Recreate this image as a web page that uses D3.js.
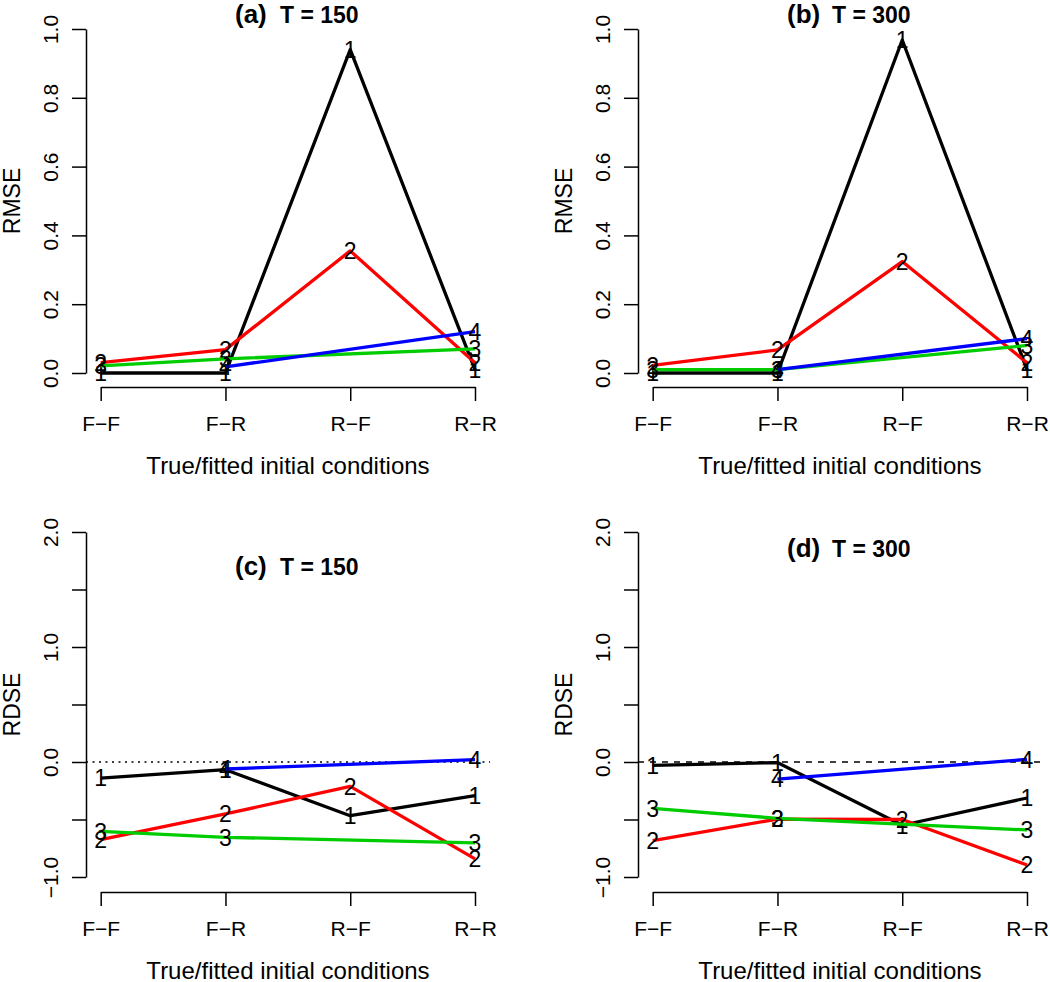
<!DOCTYPE html>
<html>
<head>
<meta charset="utf-8">
<script src="https://cdn.jsdelivr.net/npm/d3@7"></script>
<style>
  html, body { margin: 0; padding: 0; background: #fff; }
  text { font-family: "Liberation Sans", Arial, Helvetica, sans-serif; }
</style>
</head>
<body>
<svg id="chart" width="1050" height="982"></svg>
<script>
// ---------------- data ----------------
const categories = ["F\u2212F", "F\u2212R", "R\u2212F", "R\u2212R"];
const seriesNames = ["1", "2", "3", "4"];
const seriesColors = ["#000000", "#FF0000", "#00CD00", "#0000FF"];

// RMSE, T = 150 (null = not available)
const rmse150_s1 = [0, 0, 0.94, 0.01];
const rmse150_s2 = [0.03, 0.068, 0.355, 0.03];
const rmse150_s3 = [0.021, 0.041, null, 0.07];
const rmse150_s4 = [null, 0.018, null, 0.12];

// RMSE, T = 300
const rmse300_s1 = [0, 0, 0.968, 0.01];
const rmse300_s2 = [0.022, 0.067, 0.324, 0.03];
const rmse300_s3 = [0.01, 0.01, null, 0.08];
const rmse300_s4 = [null, 0.01, null, 0.10];

// RDSE, T = 150
const rdse150_s1 = [-0.14, -0.067, -0.467, -0.293];
const rdse150_s2 = [-0.676, -0.452, -0.212, -0.843];
const rdse150_s3 = [-0.603, -0.655, null, -0.704];
const rdse150_s4 = [null, -0.061, null, 0.02];

// RDSE, T = 300
const rdse300_s1 = [-0.03, -0.005, -0.55, -0.313];
const rdse300_s2 = [-0.684, -0.496, -0.50, -0.896];
const rdse300_s3 = [-0.403, -0.49, null, -0.591];
const rdse300_s4 = [null, -0.148, null, 0.023];

const rmseTicks = [0, 0.2, 0.4, 0.6, 0.8, 1.0];
const rdseTicks = [-1, -0.5, 0, 0.5, 1, 1.5, 2];
const rdseLabelTicks = [-1, 0, 1, 2];

const panelLetters = ["(a)", "(b)", "(c)", "(d)"];
const panelTitles = ["T = 150", "T = 300", "T = 150", "T = 300"];
const yTitles = ["RMSE", "RMSE", "RDSE", "RDSE"];
const xTitle = "True/fitted initial conditions";

// ---------------- layout ----------------
const svg = d3.select("#chart");
svg.append("rect").attr("width", 1050).attr("height", 982).attr("fill", "#fff");

const panels = [
  { series: [rmse150_s1, rmse150_s2, rmse150_s3, rmse150_s4], ox: 0,   yRange: [373, 29],  domain: [0, 1],  ticks: rmseTicks, labelTicks: rmseTicks, xAxisY: 387, titleY: 23, hline: null },
  { series: [rmse300_s1, rmse300_s2, rmse300_s3, rmse300_s4], ox: 552, yRange: [373, 29],  domain: [0, 1],  ticks: rmseTicks, labelTicks: rmseTicks, xAxisY: 387, titleY: 23, hline: null },
  { series: [rdse150_s1, rdse150_s2, rdse150_s3, rdse150_s4], ox: 0,   yRange: [877, 532], domain: [-1, 2], ticks: rdseTicks, labelTicks: rdseLabelTicks, xAxisY: 892, titleY: 575, hline: "2,4.5" },
  { series: [rdse300_s1, rdse300_s2, rdse300_s3, rdse300_s4], ox: 552, yRange: [877, 532], domain: [-1, 2], ticks: rdseTicks, labelTicks: rdseLabelTicks, xAxisY: 892, titleY: 557, hline: "6,6" }
];

const fmt = d3.format(".1f");
const tickLen = 14;

panels.forEach((p, pi) => {
  const g = svg.append("g");
  const x = d3.scalePoint().domain(categories).range([100.7 + p.ox, 475 + p.ox]);
  const y = d3.scaleLinear().domain(p.domain).range(p.yRange);
  const yAxisX = 86 + p.ox;
  const plotLeft = yAxisX, plotRight = 490 + p.ox;
  const plotTop = p.yRange[1] - 13.8, plotBottom = p.yRange[0] + 13.8;

  // y axis
  const yAxis = d3.axisLeft(y).tickValues(p.ticks).tickSize(tickLen).tickSizeOuter(0)
    .tickFormat(d => p.labelTicks.some(t => Math.abs(t - d) < 1e-9) ? fmt(d) : "");
  const ya = g.append("g").attr("transform", `translate(${yAxisX},0)`).call(yAxis);
  ya.select(".domain").attr("stroke", "#000").attr("stroke-width", 1.5);
  ya.selectAll(".tick line").attr("stroke", "#000").attr("stroke-width", 1.5);
  ya.selectAll(".tick text")
    .attr("x", 0).attr("y", 0)
    .attr("transform", "translate(-36,0) rotate(-90)")
    .attr("text-anchor", "middle")
    .attr("dy", "0.36em")
    .attr("font-size", 21).attr("fill", "#000")
    .style("font-family", '"Liberation Sans", Arial, sans-serif');

  // x axis
  const xAxis = d3.axisBottom(x).tickSize(tickLen).tickSizeOuter(0);
  const xa = g.append("g").attr("transform", `translate(0,${p.xAxisY})`).call(xAxis);
  xa.select(".domain").attr("stroke", "#000").attr("stroke-width", 1.5);
  xa.selectAll(".tick line").attr("stroke", "#000").attr("stroke-width", 1.5);
  xa.selectAll(".tick text")
    .attr("y", 36).attr("dy", "0.36em")
    .attr("font-size", 21).attr("fill", "#000")
    .style("font-family", '"Liberation Sans", Arial, sans-serif');

  // axis titles
  g.append("text")
    .attr("x", (plotLeft + plotRight) / 2).attr("y", p.xAxisY + 78)
    .attr("dy", "0.36em").attr("text-anchor", "middle")
    .attr("font-size", 24).text(xTitle);
  g.append("text")
    .attr("transform", `translate(${12 + p.ox},${(plotTop + plotBottom) / 2}) rotate(-90)`)
    .attr("text-anchor", "middle").attr("dy", "0.36em")
    .attr("font-size", 23).text(yTitles[pi]);

  // panel title
  const t = g.append("text").attr("y", p.titleY).attr("font-weight", "bold");
  t.append("tspan").attr("x", 235 + p.ox).attr("font-size", 26).text(panelLetters[pi]);
  t.append("tspan").attr("x", 280 + p.ox).attr("font-size", 23).text(panelTitles[pi]);

  // reference line at zero
  if (p.hline) {
    g.append("line")
      .attr("x1", plotLeft).attr("x2", plotRight)
      .attr("y1", y(0)).attr("y2", y(0))
      .attr("stroke", "#000").attr("stroke-width", 1.5)
      .attr("stroke-dasharray", p.hline);
  }

  // series
  p.series.forEach((vals, si) => {
    const pts = categories.map((c, i) => ({ c, v: vals[i] })).filter(d => d.v !== null);
    const line = d3.line().x(d => x(d.c)).y(d => y(d.v));
    g.append("path").datum(pts)
      .attr("d", line)
      .attr("fill", "none")
      .attr("stroke", seriesColors[si])
      .attr("stroke-width", 3.3)
      .attr("stroke-linejoin", "round");
    g.selectAll(null).data(pts).enter().append("text")
      .attr("x", d => x(d.c)).attr("y", d => y(d.v))
      .attr("dy", "0.36em")
      .attr("text-anchor", "middle")
      .attr("font-size", 23).attr("fill", "#000")
      .text(seriesNames[si]);
  });
});
</script>
</body>
</html>
